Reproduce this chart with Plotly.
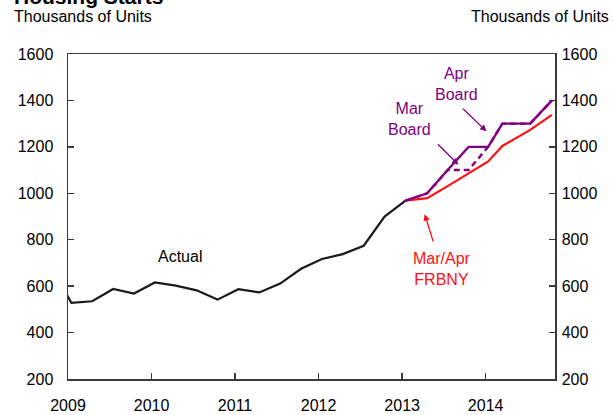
import plotly.graph_objects as go

# ---- data ----
actual_x = [2008.79, 2009.04, 2009.29, 2009.54, 2009.79, 2010.04, 2010.29, 2010.54, 2010.79,
            2011.04, 2011.29, 2011.54, 2011.79, 2012.04, 2012.29, 2012.54, 2012.79, 2013.04]
actual_y = [690, 528, 535, 588, 568, 616, 602, 582, 542,
            587, 573, 611, 675, 717, 738, 774, 900, 968]

fc_x = [2013.04, 2013.30, 2013.545, 2013.795, 2014.03, 2014.20, 2014.533, 2014.793]
apr_board = [968, 1000, 1100, 1200, 1200, 1300, 1300, 1400]
mar_board = [968, 1000, 1100, 1100, 1200, 1300, 1300, 1400]
frbny = [968, 979, 1031, 1084, 1137, 1204, 1273, 1338]

year_ticks = [2009, 2010, 2011, 2012, 2013, 2014]
y_ticks = [200, 400, 600, 800, 1000, 1200, 1400, 1600]

PURPLE = "#800080"
RED = "#FF1010"
FONT = "Liberation Sans, Arial, sans-serif"
FRAME = "#3a3a3a"

fig = go.Figure()
fig.add_trace(go.Scatter(x=actual_x, y=actual_y, mode="lines",
                         line=dict(color="#1a1a1a", width=2.2)))
fig.add_trace(go.Scatter(x=fc_x, y=frbny, mode="lines",
                         line=dict(color=RED, width=2.2)))
fig.add_trace(go.Scatter(x=fc_x, y=mar_board, mode="lines",
                         line=dict(color=PURPLE, width=2.4, dash="6px,4px")))
fig.add_trace(go.Scatter(x=fc_x, y=apr_board, mode="lines",
                         line=dict(color=PURPLE, width=2.4)))
# invisible trace for right axis
fig.add_trace(go.Scatter(x=[2009], y=[200], yaxis="y2", mode="markers",
                         marker=dict(opacity=0), hoverinfo="skip"))

tickfont = dict(family=FONT, size=16, color="#000000")
fig.update_layout(
    width=613, height=415, autosize=False,
    margin=dict(l=68, r=58, t=54, b=35.5, autoexpand=False),
    paper_bgcolor="white", plot_bgcolor="white",
    showlegend=False,
    font=dict(family=FONT),
    xaxis=dict(range=[2009, 2014.83], tickvals=year_ticks, ticktext=[str(v) for v in year_ticks],
               ticks="inside", ticklen=6, tickwidth=1.5, tickcolor=FRAME,
               showline=True, linecolor=FRAME, linewidth=1.5, mirror=True,
               showgrid=False, zeroline=False, tickfont=tickfont, ticklabelstandoff=11),
    yaxis=dict(range=[200, 1600], tickvals=y_ticks, ticks="inside", ticklen=6, tickwidth=1.5,
               tickcolor=FRAME, showline=True, linecolor=FRAME, linewidth=1.5,
               showgrid=False, zeroline=False, tickfont=tickfont, ticklabelstandoff=10),
    yaxis2=dict(range=[200, 1600], tickvals=y_ticks, ticks="inside", ticklen=6, tickwidth=1.5,
                tickcolor=FRAME, showline=True, linecolor=FRAME, linewidth=1.5,
                overlaying="y", side="right", showgrid=False, zeroline=False,
                tickfont=tickfont, ticklabelstandoff=2),
)

ann = []
# headers
ann.append(dict(text="<b>Housing Starts</b>", xref="paper", yref="paper", x=-0.115, y=1.1367,
                xanchor="left", yanchor="bottom", showarrow=False,
                font=dict(family=FONT, size=21, color="#000000")))
ann.append(dict(text="Thousands of Units", xref="paper", yref="paper", x=-0.115, y=1.1167,
                xanchor="left", yanchor="middle", showarrow=False,
                font=dict(family=FONT, size=16, color="#000000")))
ann.append(dict(text="Thousands of Units", xref="paper", yref="paper", x=1.115, y=1.1167,
                xanchor="right", yanchor="middle", showarrow=False,
                font=dict(family=FONT, size=16, color="#000000")))
# series labels
ann.append(dict(text="Actual", x=2010.34, y=727, showarrow=False,
                font=dict(family=FONT, size=16, color="#000000")))
ann.append(dict(text="Apr<br>Board", x=2013.647, y=1471, showarrow=False,
                font=dict(family=FONT, size=16, color=PURPLE)))
ann.append(dict(text="Mar<br>Board", x=2013.084, y=1318, showarrow=False,
                font=dict(family=FONT, size=16, color=PURPLE)))
ann.append(dict(text="Mar/Apr<br>FRBNY", x=2013.479, y=675, showarrow=False,
                font=dict(family=FONT, size=16, color=RED)))
# arrows
ann.append(dict(text="", x=2014.01, y=1267, ax=-25, ay=-24, showarrow=True,
                arrowhead=2, arrowsize=1, arrowwidth=1.3, arrowcolor=PURPLE))
ann.append(dict(text="", x=2013.674, y=1123, ax=-22, ay=-22, showarrow=True,
                arrowhead=2, arrowsize=1, arrowwidth=1.3, arrowcolor=PURPLE))
ann.append(dict(text="", x=2013.27, y=910, ax=9, ay=29, showarrow=True,
                arrowhead=2, arrowsize=1, arrowwidth=1.3, arrowcolor=RED))
fig.update_layout(annotations=ann)

fig.write_html(
    "out.html",
    config={"displayModeBar": False, "responsive": False, "staticPlot": True},
    post_script=("document.body.style.margin='0';"
                 "document.body.style.overflow='hidden';"
                 "document.documentElement.style.overflow='hidden';"),
)
